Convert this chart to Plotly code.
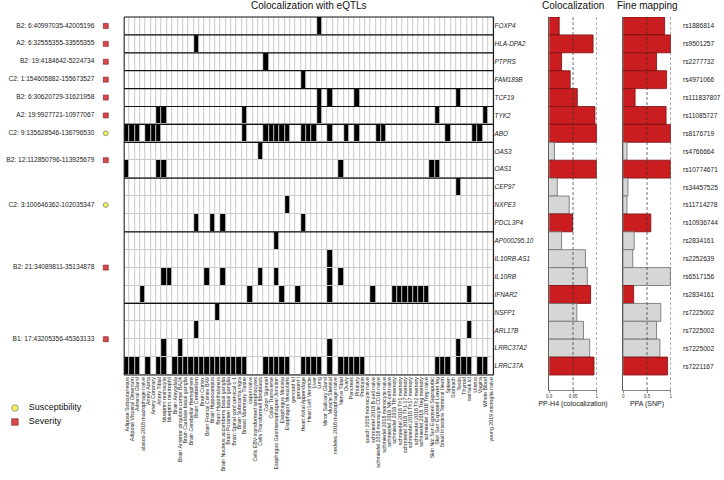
import plotly.graph_objects as go

W, H = 724, 480

tissues = [
    "Adipose Subcutaneous", "Adipose Visceral Omentum", "Adrenal Gland",
    "alasoo 2018 macrophage naive", "Artery Aorta", "Artery Coronary", "Artery Tibial",
    "blueprint monocyte", "blueprint neutrophil", "Brain Amygdala",
    "Brain Anterior cingulate cortex BA24", "Brain Caudate basal ganglia",
    "Brain Cerebellar Hemisphere", "Brain Cerebellum", "Brain Cortex",
    "Brain Frontal Cortex BA9", "Brain Hippocampus", "Brain Hypothalamus",
    "Brain Nucleus accumbens basal ganglia", "Brain Putamen basal ganglia",
    "Brain Spinal cord cervical c-1", "Brain Substantia nigra", "Breast Mammary Tissue",
    "capul naive", "Cells EBV-transformed lymphocytes", "Cells Transformed fibroblasts",
    "Colon Sigmoid", "Colon Transverse", "Esophagus Gastroesophageal Junction",
    "Esophagus Mucosa", "Esophagus Muscularis", "gencord lcl", "gencord t",
    "Heart Atrial Appendage", "Heart Left Ventricle", "Liver", "Lung",
    "Minor Salivary Gland", "Muscle Skeletal", "nedelec 2016 macrophage naive",
    "Nerve Tibial", "Ovary", "Pancreas", "Pituitary", "Prostate",
    "quach 2016 monocyte naive", "schmiedel 2018 B-cell naive",
    "schmiedel 2018 monocyte CD16 naive", "schmiedel 2018 monocyte naive",
    "schmiedel 2018 NK-cell naive", "schmiedel 2018 Tfh memory",
    "schmiedel 2018 Th1 memory", "schmiedel 2018 Th1-17 memory",
    "schmiedel 2018 Th17 memory", "schmiedel 2018 Th2 memory",
    "schmiedel 2018 Treg memory", "schmiedel 2018 Treg naive",
    "Skin Not Sun Exposed Suprapubic", "Skin Sun Exposed Lower leg",
    "Small Intestine Terminal Ileum", "Spleen", "Stomach", "Testis", "Thyroid",
    "twinsuk lcl", "Uterus", "Vagina", "Whole Blood", "young 2019 microglia naive",
]

genes = ["FOXP4", "HLA-DPA2", "PTPRS", "FAM189B", "TCF19", "TYK2", "ABO", "OAS3", "OAS1",
         "CEP97", "NXPE3", "PDCL3P4", "AP000295.10", "IL10RB-AS1", "IL10RB", "IFNAR2",
         "NSFP1", "ARL17B", "LRRC37A2", "LRRC37A"]

snps = ["rs1886814", "rs9501257", "rs2277732", "rs4971066", "rs111837807", "rs11085727",
        "rs8176719", "rs4766664", "rs10774671", "rs34457525", "rs11714278", "rs10936744",
        "rs2834161", "rs2252639", "rs6517156", "rs2834161", "rs7225002", "rs7225002",
        "rs7225002", "rs7221167"]

loci = ["B2: 6:40997035-42005196", "A2: 6:32555355-33555355", "B2: 19:4184642-5224734",
        "C2: 1:154605882-155673527", "B2: 6:30620729-31621958", "A2: 19:9927721-10977067",
        "C2: 9:135628546-136796530", "B2: 12:112850796-113925679",
        "C2: 3:100646362-102035347", "B2: 21:34089811-35134878", "B1: 17:43205356-45363133"]
locus_sizes = [1, 1, 1, 1, 1, 1, 1, 2, 3, 4, 4]
locus_types = ["Severity", "Severity", "Severity", "Severity", "Severity", "Severity",
               "Susceptibility", "Severity", "Susceptibility", "Severity", "Severity"]

pp_h4 = [0.921, 0.992, 0.926, 0.944, 0.959, 0.996, 1.0, 0.911, 0.999, 0.917, 0.942, 0.949,
         0.926, 0.976, 0.980, 0.987, 0.958, 0.972, 0.985, 0.994]
ppa_snp = [0.87, 1.0, 0.70, 0.91, 0.25, 0.90, 1.0, 0.08, 0.99, 0.10, 0.08, 0.58,
           0.23, 0.20, 0.99, 0.22, 0.79, 0.70, 0.77, 0.93]
highlighted = ["FOXP4", "HLA-DPA2", "PTPRS", "FAM189B", "TCF19", "TYK2", "ABO", "OAS1",
               "PDCL3P4", "IFNAR2", "LRRC37A"]

# tissue indices (into `tissues`) with colocalizing eQTL, per gene
eqtl_hits = {
    "FOXP4": [36],
    "HLA-DPA2": [13],
    "PTPRS": [26],
    "FAM189B": [33],
    "TCF19": [36, 38, 43, 62],
    "TYK2": [6, 7, 22, 36, 58, 67],
    "ABO": [0, 1, 2, 4, 5, 6, 22, 26, 27, 28, 29, 30, 33, 34, 35, 38, 41, 43, 47, 48, 60, 65, 66],
    "OAS3": [25],
    "OAS1": [0, 6, 7, 40, 57, 58],
    "CEP97": [62],
    "NXPE3": [30],
    "PDCL3P4": [13, 16, 18, 33],
    "AP000295.10": [28],
    "IL10RB-AS1": [38],
    "IL10RB": [7, 8, 15, 18, 25, 28, 38, 40],
    "IFNAR2": [3, 23, 29, 32, 38, 46, 50, 51, 52, 53, 54, 55, 56, 64],
    "NSFP1": [17],
    "ARL17B": [13, 64],
    "LRRC37A2": [7, 10, 38, 62],
    "LRRC37A": [0, 1, 2, 4, 6, 7, 9, 10, 11, 12, 13, 14, 15, 16, 17, 18, 19, 20, 21, 22,
                26, 27, 28, 29, 30, 33, 34, 35, 36, 38, 40, 41, 42, 43, 44,
                58, 59, 60, 62, 63, 64, 66, 67],
}

FONT = "Liberation Sans"
RED = "#c91d1f"
RED_LINE = "#7a1010"
GREY = "#d6d6d6"
GREY_LINE = "#6a6a6a"


def px(x):
    return x / W


def py(y):
    return 1 - y / H


n_rows = len(genes)
n_cols = len(tissues)
z = [[1 if c in eqtl_hits[g] else 0 for c in range(n_cols)] for g in genes]

# pixel layout
HM_L, HM_R, HM_T, HM_B = 122, 494, 17, 375
BAR_B = 390
row_px = (HM_B - HM_T) / n_rows
bar_extra = (BAR_B - HM_B) / row_px

fig = go.Figure()

fig.add_trace(go.Heatmap(
    z=z, x=list(range(n_cols)), y=list(range(n_rows)),
    colorscale=[[0, "white"], [1, "black"]], zmin=0, zmax=1,
    showscale=False, xgap=1, ygap=1, hoverinfo="skip",
    xaxis="x", yaxis="y",
))

# locus labels + markers on the left
centers = []
start = 0
for s in locus_sizes:
    centers.append(start + (s - 1) / 2)
    start += s

fig.add_trace(go.Scatter(
    x=[92] * len(loci), y=centers, mode="text", text=loci,
    textposition="middle left", textfont=dict(family=FONT, size=6.6, color="#222"),
    xaxis="x2", yaxis="y", showlegend=False, hoverinfo="skip", cliponaxis=False,
))
marker_style = {
    "Susceptibility": dict(symbol="circle", color="#f2ee5c", line=dict(color="#666", width=0.6)),
    "Severity": dict(symbol="square", color="#d9494b", line=dict(color="#7a1a1a", width=0.6)),
}
for t in ["Susceptibility", "Severity"]:
    ys = [c for c, lt in zip(centers, locus_types) if lt == t]
    fig.add_trace(go.Scatter(
        x=[103.5] * len(ys), y=ys, mode="markers",
        marker=dict(size=5, **marker_style[t]),
        xaxis="x2", yaxis="y", showlegend=False, hoverinfo="skip", cliponaxis=False,
    ))

# legend (custom)
leg_names = ["Susceptibility", "Severity"]
for i, t in enumerate(leg_names):
    fig.add_trace(go.Scatter(
        x=[12], y=[i], mode="markers",
        marker=dict(size=6.5, **marker_style[t]),
        xaxis="x3", yaxis="y3", showlegend=False, hoverinfo="skip", cliponaxis=False,
    ))
fig.add_trace(go.Scatter(
    x=[26] * len(leg_names), y=list(range(len(leg_names))), mode="text", text=leg_names,
    textposition="middle right", textfont=dict(family=FONT, size=9, color="#111"),
    xaxis="x3", yaxis="y3", showlegend=False, hoverinfo="skip", cliponaxis=False,
))

bar_colors = [RED if g in highlighted else GREY for g in genes]
bar_lines = [RED_LINE if g in highlighted else GREY_LINE for g in genes]

fig.add_trace(go.Bar(
    x=pp_h4, y=list(range(n_rows)), orientation="h", width=1,
    marker=dict(color=bar_colors, line=dict(color=bar_lines, width=0.8)),
    xaxis="x4", yaxis="y4", showlegend=False, hoverinfo="skip",
))
fig.add_trace(go.Bar(
    x=ppa_snp, y=list(range(n_rows)), orientation="h", width=1,
    marker=dict(color=bar_colors, line=dict(color=bar_lines, width=0.8)),
    xaxis="x5", yaxis="y5", showlegend=False, hoverinfo="skip",
))

tickfont_small = dict(family=FONT, size=4.5, color="#333")

fig.update_layout(
    width=W, height=H, margin=dict(l=0, r=0, t=0, b=0),
    paper_bgcolor="white", plot_bgcolor="white", showlegend=False,
    bargap=0, hovermode=False,
    xaxis=dict(domain=[px(HM_L), px(HM_R)], range=[-0.5, n_cols - 0.5], anchor="y",
               tickmode="array", tickvals=list(range(n_cols)), ticktext=tissues,
               tickangle=-90, tickfont=dict(family=FONT, size=5.3, color="#222"),
               ticks="", showgrid=False, zeroline=False, showline=False),
    yaxis=dict(domain=[py(HM_B), py(HM_T)], range=[n_rows - 0.5, -0.5], anchor="x",
               tickmode="array", tickvals=list(range(n_rows)),
               ticktext=["<i>%s</i>" % g for g in genes], side="right",
               tickfont=dict(family=FONT, size=6.4, color="#222"),
               ticks="", showgrid=False, zeroline=False, showline=False),
    xaxis2=dict(domain=[0, px(HM_L)], range=[0, HM_L], anchor="y", visible=False),
    xaxis3=dict(domain=[0, px(120)], range=[0, 120], anchor="y3", visible=False),
    yaxis3=dict(domain=[py(429), py(401)], range=[1.5, -0.5], anchor="x3", visible=False),
    xaxis4=dict(domain=[px(550), px(598)], range=[0.9, 1.0], anchor="y4",
                tickmode="array", tickvals=[0.9, 0.95, 1.0], ticktext=["0.9", "0.95", "1"],
                tickfont=tickfont_small, ticks="outside", ticklen=2, tickwidth=0.6,
                tickcolor="#333", showline=True, linecolor="#333", linewidth=0.6,
                showgrid=False, zeroline=False,
                title=dict(text="PP-H4 (colocalization)", font=dict(family=FONT, size=7, color="#222"),
                           standoff=2)),
    yaxis4=dict(domain=[py(BAR_B), py(HM_T)], range=[n_rows - 0.5 + bar_extra, -0.5],
                anchor="x4", showticklabels=False, ticks="", showgrid=False, zeroline=False,
                showline=True, linecolor="#333", linewidth=0.8),
    xaxis5=dict(domain=[px(624.5), px(672.5)], range=[0, 1.0], anchor="y5",
                tickmode="array", tickvals=[0, 0.5, 1.0], ticktext=["0", "0.5", "1"],
                tickfont=tickfont_small, ticks="outside", ticklen=2, tickwidth=0.6,
                tickcolor="#333", showline=True, linecolor="#333", linewidth=0.6,
                showgrid=False, zeroline=False,
                title=dict(text="PPA (SNP)", font=dict(family=FONT, size=7, color="#222"),
                           standoff=2)),
    yaxis5=dict(domain=[py(BAR_B), py(HM_T)], range=[n_rows - 0.5 + bar_extra, -0.5],
                anchor="x5", showticklabels=False, ticks="", showgrid=False, zeroline=False,
                showline=True, linecolor="#333", linewidth=0.8),
)

shapes = []
# grey grid background behind the heatmap cells
shapes.append(dict(type="rect", xref="x domain", yref="y domain", x0=0, x1=1, y0=0, y1=1,
                   fillcolor="#c9c9c9", line=dict(width=0), layer="below"))
# locus separators
b = 0
for s in locus_sizes[:-1]:
    b += s
    shapes.append(dict(type="line", xref="x", yref="y", x0=-0.5, x1=n_cols - 0.5,
                       y0=b - 0.5, y1=b - 0.5, line=dict(color="#111", width=1.2)))
shapes.append(dict(type="rect", xref="x domain", yref="y domain", x0=0, x1=1, y0=0, y1=1,
                   line=dict(color="#111", width=1)))
# dashed threshold lines
for ax, vals in [("x4", [0.95, 1.0]), ("x5", [0.5, 1.0])]:
    for v in vals:
        shapes.append(dict(type="line", xref=ax, yref=ax.replace("x", "y") + " domain",
                           x0=v, x1=v, y0=0, y1=1,
                           line=dict(color="#333", width=0.7, dash="3px,2px")))
fig.update_layout(shapes=shapes)

ann = []
for txt, xc in [("Colocalization with eQTLs", 308), ("Colocalization", 574), ("Fine mapping", 649)]:
    ann.append(dict(text=txt, x=px(xc), y=py(6), xref="paper", yref="paper",
                    xanchor="center", yanchor="middle",
                    showarrow=False, font=dict(family=FONT, size=10, color="#111")))
for i, s in enumerate(snps):
    ann.append(dict(text=s, x=px(683), y=i, xref="paper", yref="y5", xanchor="left",
                    yanchor="middle",
                    showarrow=False, font=dict(family=FONT, size=6.6, color="#222")))
fig.update_layout(annotations=ann)

fig.write_html(
    "out.html",
    config={"displayModeBar": False, "staticPlot": True},
    post_script="document.body.style.margin='0px';document.body.style.overflow='hidden';",
)
